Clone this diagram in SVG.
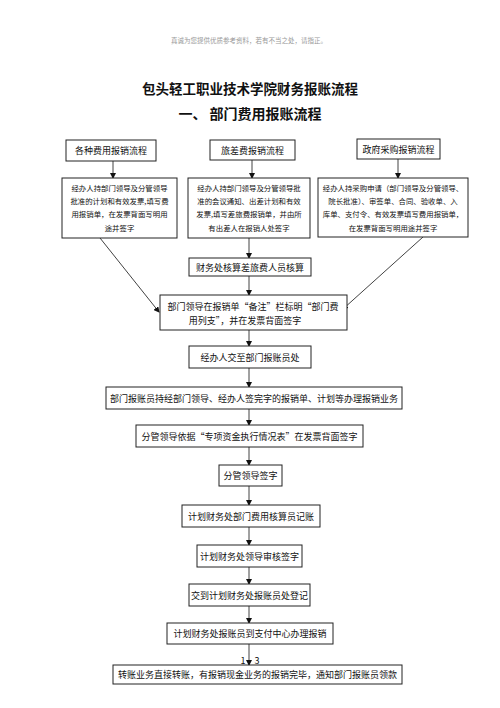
<svg xmlns="http://www.w3.org/2000/svg" width="500" height="708" viewBox="0 0 500 708">
<style>
text{font-family:"Noto Sans CJK SC","Noto Sans",sans-serif;fill:#111;text-anchor:middle;dominant-baseline:central}
.b{fill:#fff;stroke:#222;stroke-width:1}
.t{font-size:9px}
.s{font-size:7.4px}
.c{stroke:#111;stroke-width:0.8;fill:none;marker-end:url(#ah)}
</style>
<defs>
<marker id="ah" markerWidth="6" markerHeight="6" refX="5" refY="3" orient="auto" markerUnits="userSpaceOnUse">
<path d="M0,0 L6,3 L0,6 Z" fill="#111"/>
</marker>
</defs>
<rect width="500" height="708" fill="#fff"/>
<text x="249" y="40" style="font-size:6.5px;fill:#999">真诚为您提供优质参考资料，若有不当之处，请指正。</text>
<text x="250" y="88" style="font-size:13.5px;font-weight:bold">包头轻工职业技术学院财务报账流程</text>
<text x="250" y="113" style="font-size:14px;font-weight:bold">一、 部门费用报账流程</text>

<g id="connectors">
<line class="c" x1="113" y1="161" x2="113" y2="178"/>
<line class="c" x1="252" y1="160" x2="252" y2="178"/>
<line class="c" x1="398" y1="159" x2="398" y2="178"/>
<line class="c" x1="249" y1="238" x2="249" y2="258"/>
<line class="c" x1="100" y1="238" x2="159" y2="312"/>
<line class="c" x1="423" y1="237" x2="343" y2="309"/>
<line class="c" x1="249" y1="276" x2="249" y2="295"/>
<line class="c" x1="249" y1="330" x2="249" y2="346"/>
<line class="c" x1="249" y1="368" x2="249" y2="387"/>
<line class="c" x1="249" y1="409" x2="249" y2="425"/>
<line class="c" x1="249" y1="447" x2="249" y2="465"/>
<line class="c" x1="249" y1="486" x2="249" y2="505"/>
<line class="c" x1="249" y1="527" x2="249" y2="545"/>
<line class="c" x1="249" y1="567" x2="249" y2="584"/>
<line class="c" x1="249" y1="606" x2="249" y2="623"/>
<line class="c" x1="249" y1="644" x2="249" y2="665"/>
<text x="243" y="660" class="t">1</text>
<text x="257" y="660" class="t">3</text>
</g>

<g id="n1"><rect class="b" x="66" y="140" width="90" height="21"/><text x="111" y="150.5" class="t">各种费用报销流程</text></g>
<g id="n2"><rect class="b" x="210" y="140" width="85" height="20"/><text x="252.5" y="150" class="t">旅差费报销流程</text></g>
<g id="n3"><rect class="b" x="357" y="139" width="83" height="20"/><text x="398.5" y="149" class="t">政府采购报销流程</text></g>

<g id="n4"><rect class="b" x="62" y="178" width="115" height="60"/>
<text x="119.5" y="187" class="s">经办人持部门领导及分管领导</text>
<text x="119.5" y="200" class="s">批准的计划和有效发票,填写费</text>
<text x="119.5" y="213" class="s">用报销单，在发票背面写明用</text>
<text x="119.5" y="227" class="s">途并签字</text></g>

<g id="n5"><rect class="b" x="188" y="178" width="122" height="60"/>
<text x="249" y="187" class="s">经办人持部门领导及分管领导批</text>
<text x="249" y="200" class="s">准的会议通知、出差计划和有效</text>
<text x="249" y="213" class="s">发票,填写差旅费报销单，并由所</text>
<text x="249" y="227" class="s">有出差人在报销人处签字</text></g>

<g id="n6"><rect class="b" x="318" y="178" width="150" height="59"/>
<text x="393" y="187" class="s">经办人持采购申请（部门领导及分管领导、</text>
<text x="393" y="200" class="s">院长批准）、审签单、合同、验收单、入</text>
<text x="393" y="213" class="s">库单、支付令、有效发票填写费用报销单，</text>
<text x="393" y="227" class="s">在发票背面写明用途并签字</text></g>

<g id="n7"><rect class="b" x="189" y="258" width="122" height="18"/><text x="250" y="267" class="t">财务处核算差旅费人员核算</text></g>

<g id="n8"><rect class="b" x="160" y="295" width="187" height="35"/>
<text x="253" y="306" class="t">部门领导在报销单“备注”栏标明“部门费</text>
<text x="245" y="320" class="t">用列支”，并在发票背面签字</text></g>

<g id="n9"><rect class="b" x="189" y="346" width="122" height="22"/><text x="250" y="357" class="t">经办人交至部门报账员处</text></g>
<g id="n10"><rect class="b" x="106" y="387" width="296" height="22"/><text x="254" y="398" class="t">部门报账员持经部门领导、经办人签完字的报销单、计划等办理报销业务</text></g>
<g id="n11"><rect class="b" x="136" y="425" width="227" height="22"/><text x="249.5" y="436" class="t">分管领导依据“专项资金执行情况表”在发票背面签字</text></g>
<g id="n12"><rect class="b" x="219" y="465" width="63" height="21"/><text x="250.5" y="475.5" class="t">分管领导签字</text></g>
<g id="n13"><rect class="b" x="182" y="505" width="138" height="22"/><text x="251" y="516" class="t">计划财务处部门费用核算员记账</text></g>
<g id="n14"><rect class="b" x="197" y="545" width="105" height="22"/><text x="249.5" y="556" class="t">计划财务处领导审核签字</text></g>
<g id="n15"><rect class="b" x="189" y="584" width="121" height="22"/><text x="249.5" y="595" class="t">交到计划财务处报账员处登记</text></g>
<g id="n16"><rect class="b" x="167" y="623" width="166" height="21"/><text x="250" y="633.5" class="t">计划财务处报账员到支付中心办理报销</text></g>
<g id="n17"><rect class="b" x="113" y="665" width="289" height="19"/><text x="257.5" y="674.5" class="t">转账业务直接转账，有报销现金业务的报销完毕，通知部门报账员领款</text></g>
</svg>
